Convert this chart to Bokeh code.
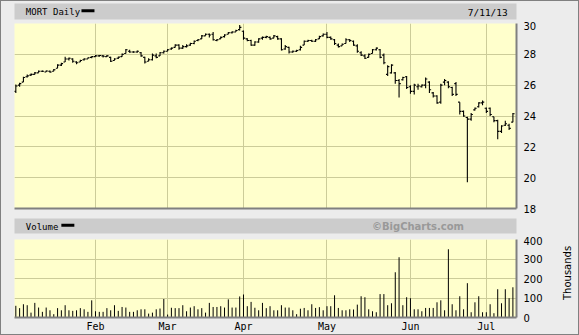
import math
from bokeh.plotting import figure
from bokeh.models import FixedTicker, Column, Row
from bokeh.core.properties import value
from bokeh.embed import file_html
from bokeh.resources import INLINE

# ---------------- data ----------------
title_text = "MORT Daily"
date_text = "7/11/13"
volume_title = "Volume"
credit_text = "\u00a9BigCharts.com"
volume_unit = "Thousands"

month_ticks = [21, 40, 60, 82, 104, 124]
month_labels = ["Feb", "Mar", "Apr", "May", "Jun", "Jul"]
price_ticks = [18, 20, 22, 24, 26, 28, 30]
volume_ticks = [0, 100, 200, 300, 400]

open_ = [25.6, 26.0, 26.2, 26.55, 26.65, 26.7, 26.8, 26.9, 26.85, 26.9,
         26.9, 27.1, 27.3, 27.5, 27.7, 27.7, 27.5, 27.5, 27.65, 27.7,
         27.8, 27.85, 27.9, 27.9, 27.85, 27.8, 27.6, 27.75, 27.85, 28.05,
         28.2, 28.15, 28.15, 28.1, 27.8, 27.55, 27.65, 27.9, 27.9, 28.1,
         28.2, 28.35, 28.45, 28.6, 28.4, 28.5, 28.6, 28.7, 28.9, 29.0,
         29.2, 29.3, 29.3, 28.9, 29.0, 29.15, 29.3, 29.4, 29.45, 29.6,
         29.5, 29.0, 28.9, 28.6, 28.8, 29.05, 29.1, 29.1, 29.05, 29.15,
         29.0, 28.35, 28.45, 28.15, 28.2, 28.3, 28.6, 28.85, 28.9, 28.85,
         29.0, 29.2, 29.3, 29.1, 28.95, 28.6, 28.55, 28.7, 28.95, 28.85,
         28.55, 28.1, 27.9, 27.8, 28.05, 28.3, 28.3, 27.95, 26.7, 26.8,
         26.8, 26.3, 26.35, 26.55, 25.9, 25.6, 25.9, 25.9, 26.0, 26.2,
         25.5, 25.3, 24.9, 26.2, 26.2, 25.85, 26.1, 24.9, 24.3, 23.9,
         23.8, 24.4, 24.6, 24.85, 24.5, 24.5, 23.95, 23.7, 23.0, 23.4,
         23.4, 23.6]
high = [26.05, 26.15, 26.55, 26.7, 26.75, 26.85, 26.95, 26.95, 26.95, 26.95,
        27.05, 27.35, 27.45, 27.85, 27.8, 27.75, 27.55, 27.65, 27.75, 27.8,
        27.88, 27.95, 27.95, 27.95, 27.95, 27.85, 27.75, 27.85, 28.05, 28.35,
        28.3, 28.2, 28.25, 28.15, 27.85, 27.75, 28.05, 28.05, 28.15, 28.25,
        28.35, 28.45, 28.65, 28.65, 28.6, 28.65, 28.75, 28.9, 29.0, 29.25,
        29.35, 29.35, 29.45, 29.0, 29.15, 29.3, 29.45, 29.5, 29.6, 29.9,
        29.55, 29.05, 28.95, 28.85, 29.05, 29.15, 29.2, 29.15, 29.25, 29.2,
        29.05, 28.6, 28.5, 28.25, 28.3, 28.55, 28.9, 28.95, 28.95, 29.0,
        29.2, 29.35, 29.45, 29.15, 29.0, 28.7, 28.7, 29.05, 29.0, 28.9,
        28.65, 28.2, 28.0, 28.05, 28.35, 28.45, 28.35, 28.05, 27.3, 27.35,
        26.85, 26.4, 26.55, 26.6, 26.0, 26.1, 26.1, 26.05, 26.5, 26.25,
        25.55, 25.35, 26.1, 26.4, 26.25, 25.9, 26.2, 24.9, 24.35, 23.95,
        24.2, 24.55, 24.9, 25.0, 24.55, 24.55, 23.95, 23.75, 23.4, 23.7,
        23.5, 24.2]
low = [25.5, 25.9, 26.2, 26.5, 26.6, 26.7, 26.8, 26.85, 26.85, 26.8,
       26.9, 27.1, 27.25, 27.5, 27.6, 27.45, 27.35, 27.5, 27.6, 27.7,
       27.75, 27.85, 27.85, 27.8, 27.85, 27.5, 27.6, 27.7, 27.85, 28.05,
       28.1, 28.1, 28.1, 27.85, 27.4, 27.55, 27.6, 27.75, 27.9, 28.05,
       28.2, 28.3, 28.45, 28.3, 28.35, 28.45, 28.55, 28.65, 28.85, 29.0,
       29.2, 29.1, 28.9, 28.85, 29.0, 29.1, 29.3, 29.35, 29.45, 29.55,
       28.95, 28.85, 28.55, 28.55, 28.75, 28.95, 29.05, 28.95, 29.05, 28.95,
       28.25, 28.3, 28.05, 28.1, 28.15, 28.25, 28.6, 28.8, 28.8, 28.8,
       29.0, 29.15, 29.05, 28.95, 28.6, 28.45, 28.55, 28.7, 28.8, 28.55,
       28.1, 27.9, 27.7, 27.8, 28.05, 28.25, 27.75, 27.35, 26.6, 26.75,
       26.1, 25.2, 26.3, 25.75, 25.45, 25.4, 25.7, 25.85, 25.8, 25.5,
       25.2, 24.8, 24.8, 26.0, 25.8, 25.3, 25.3, 24.1, 23.95, 19.7,
       23.7, 24.35, 24.55, 24.7, 24.2, 24.0, 23.6, 22.5, 22.9, 23.35,
       23.1, 23.6]
close = [25.95, 26.1, 26.5, 26.6, 26.7, 26.8, 26.9, 26.9, 26.92, 26.85,
         27.0, 27.3, 27.4, 27.7, 27.75, 27.55, 27.45, 27.6, 27.7, 27.78,
         27.85, 27.9, 27.92, 27.88, 27.9, 27.55, 27.7, 27.82, 28.0, 28.3,
         28.15, 28.15, 28.2, 27.9, 27.5, 27.65, 27.95, 27.8, 28.1, 28.2,
         28.3, 28.4, 28.6, 28.4, 28.5, 28.55, 28.7, 28.85, 28.95, 29.2,
         29.3, 29.25, 28.95, 28.95, 29.1, 29.25, 29.4, 29.45, 29.55, 29.75,
         29.05, 28.9, 28.6, 28.8, 29.0, 29.1, 29.15, 29.0, 29.2, 29.0,
         28.3, 28.5, 28.15, 28.2, 28.25, 28.45, 28.85, 28.9, 28.85, 28.95,
         29.15, 29.3, 29.1, 29.0, 28.7, 28.5, 28.65, 28.95, 28.9, 28.6,
         28.2, 27.95, 27.75, 28.0, 28.3, 28.4, 27.8, 27.45, 27.2, 27.3,
         26.3, 26.1, 26.5, 25.85, 25.6, 26.0, 25.95, 26.0, 26.4, 25.7,
         25.3, 24.85, 26.0, 26.3, 25.9, 25.4, 25.4, 24.3, 24.0, 23.8,
         24.1, 24.5, 24.85, 24.9, 24.3, 24.1, 23.7, 23.0, 23.35, 23.5,
         23.2, 24.15]
volume = [60, 48, 68, 63, 25, 75, 51, 29, 51, 37,
          17, 48, 37, 63, 37, 34, 37, 48, 42, 29,
          88, 32, 29, 29, 48, 37, 63, 34, 54, 51,
          29, 29, 37, 42, 42, 20, 25, 42, 46, 95,
          15, 50, 48, 48, 63, 32, 51, 58, 42, 48,
          25, 75, 54, 54, 58, 51, 93, 51, 51, 108,
          118, 58, 80, 50, 37, 75, 48, 58, 37, 37,
          63, 51, 51, 37, 17, 45, 49, 37, 68, 49,
          53, 37, 58, 58, 114, 49, 37, 37, 42, 41,
          66, 109, 104, 42, 32, 27, 120, 120, 63, 73,
          232, 309, 63, 104, 99, 42, 42, 32, 49, 49,
          49, 78, 88, 37, 350, 68, 37, 109, 42, 176,
          27, 78, 109, 27, 27, 68, 22, 145, 73, 145,
          99, 155]

days = list(range(len(close)))

# ---------------- style ----------------
PAGE_BG = "#ececec"
BAR_BG = "#cccccc"
PLOT_BG = "#ffffcc"
GRID = "#cccc99"
SHADOW = "#808080"
MONO = "DejaVu Sans Mono"
SANS = "DejaVu Sans"
W = 577
STRIP = 20
XR = (-0.35, 131.95)


def style_axes(fig, yticks):
    fig.background_fill_color = PLOT_BG
    fig.border_fill_color = PAGE_BG
    fig.outline_line_color = None
    for ax in (fig.xaxis, fig.yaxis):
        ax.axis_line_color = SHADOW
        ax.axis_line_width = 2
        ax.major_tick_out = 0
        ax.major_tick_in = 0
        ax.minor_tick_out = 0
        ax.minor_tick_in = 0
    fig.yaxis.ticker = FixedTicker(ticks=yticks)
    fig.yaxis.major_label_standoff = 7
    fig.yaxis.major_label_text_font = SANS
    fig.yaxis.major_label_text_font_size = "10px"
    fig.yaxis.major_label_text_color = "black"
    fig.xgrid.ticker = FixedTicker(ticks=month_ticks)
    fig.ygrid.ticker = FixedTicker(ticks=yticks)
    fig.grid.grid_line_color = GRID
    fig.grid.grid_line_width = 1


def header(bottom, left_text, swatch_x):
    h = figure(width=W, height=20, x_range=(0, 574), y_range=(0, 1),
               toolbar_location=None, output_backend="svg",
               x_axis_location=None, y_axis_location=None,
               min_border_left=1, min_border_right=2, min_border_top=2, min_border_bottom=bottom)
    h.background_fill_color = BAR_BG
    h.border_fill_color = PAGE_BG
    h.outline_line_color = None
    h.grid.visible = False
    h.text(x=[13], y=[0.45], text=[left_text], text_font=value(MONO), text_font_size="9px",
           text_baseline="middle", text_align="left", text_color="black")
    h.rect(x=[swatch_x], y=[0.55], width=13, height=3, width_units="screen",
           height_units="screen", fill_color="black", line_color=None)
    return h


# header 1
h1 = header(2, title_text, 84)
h1.text(x=[564], y=[0.45], text=[date_text], text_font=value(MONO), text_font_size="9.5px",
        text_baseline="middle", text_align="right", text_color="black")

# price figure
p = figure(width=W, height=195, x_range=XR, y_range=(18, 30),
           toolbar_location=None, output_backend="svg",
           x_axis_location="below", y_axis_location="right",
           min_border_left=13, min_border_right=62, min_border_top=2, min_border_bottom=8)
style_axes(p, price_ticks)
p.xaxis.ticker = FixedTicker(ticks=[])
p.xaxis.major_label_text_font_size = "0px"
p.xaxis.major_label_standoff = 0

p.segment(x0=days, y0=low, x1=days, y1=high, line_color="black", line_width=1.1)
p.segment(x0=[d - 0.45 for d in days], y0=open_, x1=days, y1=open_, line_color="black", line_width=1.1)
p.segment(x0=days, y0=close, x1=[d + 0.45 for d in days], y1=close, line_color="black", line_width=1.1)

# header 2
h2 = header(3, volume_title, 61)
h2.text(x=[514], y=[0.5], text=[credit_text], text_font=value(SANS), text_font_size="10px",
        text_font_style="bold", text_baseline="middle", text_align="right", text_color="#999999")

# volume figure
v = figure(width=W - STRIP, height=98, x_range=XR, y_range=(0, 400),
           toolbar_location=None, output_backend="svg",
           x_axis_location="below", y_axis_location="right",
           min_border_left=13, min_border_right=62 - STRIP, min_border_top=3, min_border_bottom=17)
style_axes(v, volume_ticks)
v.xaxis.ticker = FixedTicker(ticks=month_ticks)
v.xaxis.major_label_overrides = {t: l for t, l in zip(month_ticks, month_labels)}
v.xaxis.major_label_standoff = 3
v.xaxis.major_label_text_font = MONO
v.xaxis.major_label_text_font_size = "10px"
v.xaxis.major_label_text_color = "black"
v.segment(x0=days, y0=[0] * len(days), x1=days, y1=volume, line_color="black", line_width=1)

# rotated unit label strip
s = figure(width=STRIP, height=98, x_range=(0, STRIP), y_range=(0, 98),
           toolbar_location=None, output_backend="svg",
           x_axis_location=None, y_axis_location=None,
           min_border_left=0, min_border_right=0, min_border_top=0, min_border_bottom=0)
s.background_fill_color = PAGE_BG
s.border_fill_color = PAGE_BG
s.outline_line_color = None
s.grid.visible = False
s.text(x=[9], y=[56], text=[volume_unit], angle=math.pi / 2, text_align="center",
       text_baseline="middle", text_font=value(SANS), text_font_size="10px", text_color="black")

layout = Column(children=[h1, p, h2, Row(children=[v, s], spacing=0)], spacing=0,
                styles={"border": "1px solid #808080", "background-color": PAGE_BG})

open("out.html", "w").write(file_html(layout, INLINE))
